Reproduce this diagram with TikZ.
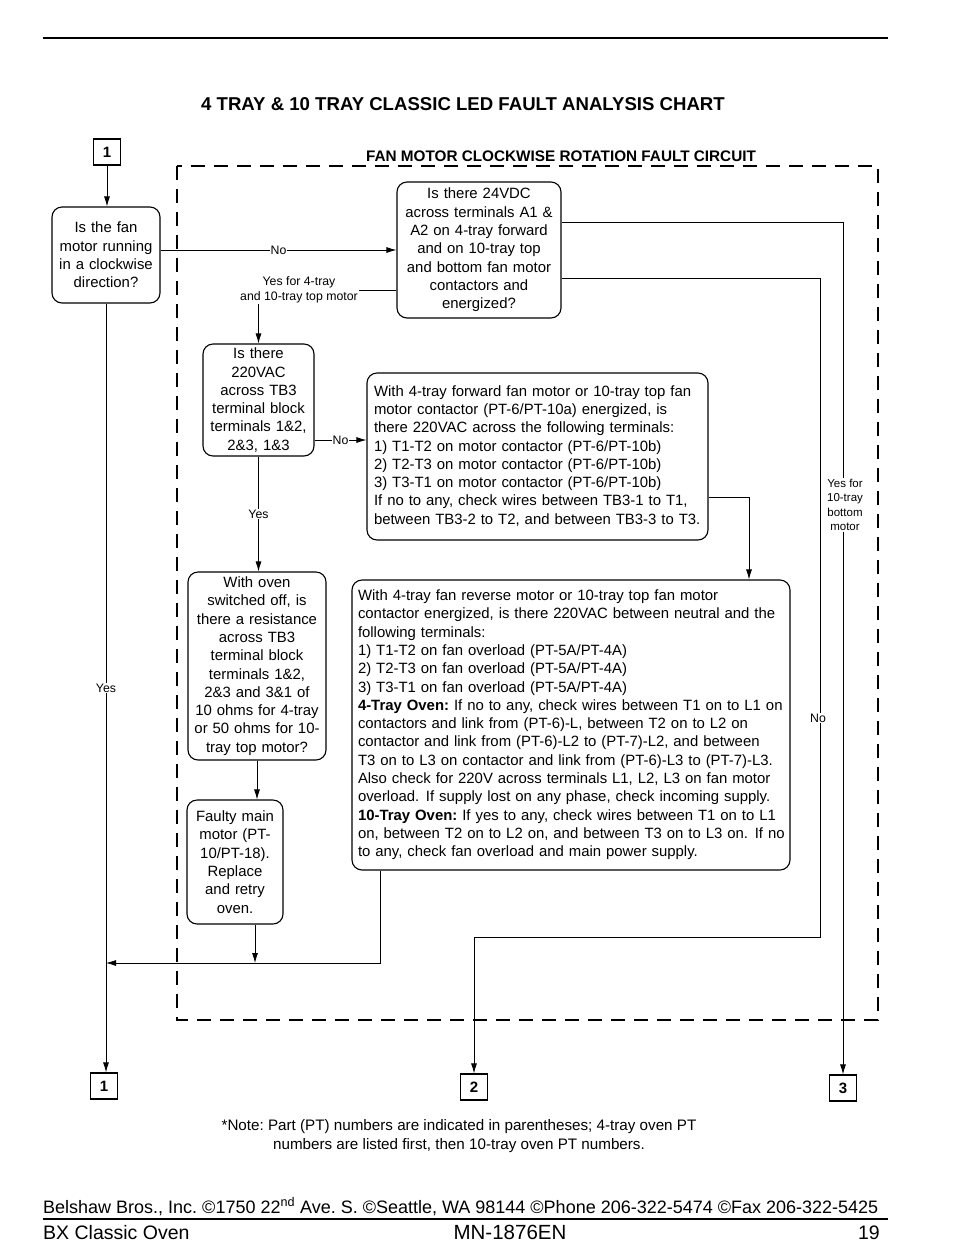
\documentclass[tikz,border=0pt]{standalone}
\usepackage{fontspec}
\setmainfont{Liberation Sans}
\usetikzlibrary{arrows.meta,calc}
\newcommand{\boxlines}[1]{\begin{tabular}{@{}l@{}}#1\end{tabular}}
\newcommand{\twosp}{\hspace{0.45em}}
\frenchspacing
\tikzset{
  box/.style={draw, line width=1.1pt, rounded corners=10pt, align=center, inner xsep=3pt, inner ysep=0pt, font=\fontsize{14.9}{18.3}\selectfont},
  lbox/.style={box, align=left, inner xsep=7pt},
  lbl/.style={fill=white, inner sep=1pt, align=center, font=\fontsize{12.3}{15}\selectfont},
  slbl/.style={fill=white, inner sep=1pt, align=center, font=\fontsize{11.5}{14.5}\selectfont},
  conn/.style={line width=0.8pt},
  arr/.style={line width=0.8pt, -{Latex[length=10pt,width=6pt]}},
  term/.style={draw, line width=1.2pt, minimum width=27pt, minimum height=26pt, inner sep=0pt, font=\fontsize{15}{16}\bfseries\selectfont},
  frame/.style={line width=2.6pt, dash pattern=on 14pt off 9pt},
}
\begin{document}
\begin{tikzpicture}[x=1pt,y=-1pt]
\useasboundingbox (0,0) rectangle (954,1259);
% page rules
\draw[line width=1.4pt] (43,38) -- (888,38);
\node[font=\fontsize{18.6}{22}\bfseries\selectfont] (title) at (463,104) {4 TRAY \& 10 TRAY CLASSIC LED FAULT ANALYSIS CHART};
% dashed frame
\draw[frame] (177,166) rectangle (878,1020);
\node[font=\fontsize{15.3}{18}\bfseries\selectfont, anchor=base] (ftitle) at (561,161) {FAN MOTOR CLOCKWISE ROTATION FAULT CIRCUIT};

% terminals
\node[term] (t1top) at (107,152) {1};
\node[term] (tb1) at (104,1086) {1};
\node[term] (tb2) at (474,1087) {2};
\node[term] (tb3) at (843,1088) {3};

% boxes
\node[box, minimum width=108pt, minimum height=96pt, text width=102pt] (A) at (106,255)
  {Is the fan\\motor running\\in a clockwise\\direction?};
\node[box, minimum width=164pt, minimum height=136pt, text width=158pt] (B) at (479,250)
  {Is there 24VDC\\across terminals A1 \&\\A2 on 4-tray forward\\and on 10-tray top\\and bottom fan motor\\contactors and\\energized?};
\node[box, minimum width=111pt, minimum height=112pt, text width=105pt] (C) at (258.5,400)
  {Is there\\220VAC\\across TB3\\terminal block\\terminals 1\&2,\\2\&3, 1\&3};
\node[lbox, minimum width=341pt, minimum height=167pt, text width=327pt] (D) at (537.5,456.5)
  {\boxlines{With 4-tray forward fan motor or 10-tray top fan\\
   motor contactor (PT-6/PT-10a) energized, is\\
   there 220VAC across the following terminals:\\
   1) T1-T2 on motor contactor (PT-6/PT-10b)\\
   2) T2-T3 on motor contactor (PT-6/PT-10b)\\
   3) T3-T1 on motor contactor (PT-6/PT-10b)\\
   If no to any, check wires between TB3-1 to T1,\\
   between TB3-2 to T2, and between TB3-3 to T3.}};
\node[box, minimum width=138pt, minimum height=188pt, text width=132pt] (E) at (257,666)
  {With oven\\switched off, is\\there a resistance\\across TB3\\terminal block\\terminals 1\&2,\\2\&3 and 3\&1 of\\10 ohms for 4-tray\\or 50 ohms for 10-\\tray top motor?};
\node[box, minimum width=96pt, minimum height=124pt, text width=90pt] (F) at (235,862)
  {Faulty main\\motor (PT-\\10/PT-18).\\Replace\\and retry\\oven.};
\node[lbox, inner xsep=6pt, minimum width=438pt, minimum height=290pt, text width=426pt] (G) at (571,725)
  {\boxlines{With 4-tray fan reverse motor or 10-tray top fan motor\\
   contactor energized, is there 220VAC between neutral and the\\
   following terminals:\\
   1) T1-T2 on fan overload (PT-5A/PT-4A)\\
   2) T2-T3 on fan overload (PT-5A/PT-4A)\\
   3) T3-T1 on fan overload (PT-5A/PT-4A)\\
   \textbf{4-Tray Oven:} If no to any, check wires between T1 on to L1 on\\
   contactors and link from (PT-6)-L, between T2 on to L2 on\\
   contactor and link from (PT-6)-L2 to (PT-7)-L2, and between\\
   T3 on to L3 on contactor and link from (PT-6)-L3 to (PT-7)-L3.\\
   Also check for 220V across terminals L1, L2, L3 on fan motor\\
   overload.\twosp If supply lost on any phase, check incoming supply.\\
   \textbf{10-Tray Oven:} If yes to any, check wires between T1 on to L1\\
   on, between T2 on to L2 on, and between T3 on to L3 on.\twosp If no\\
   to any, check fan overload and main power supply.}};

% helper coordinates
\coordinate (dG) at (749,0);
\coordinate (gx) at (380,963);
\coordinate (fj) at (255,963);
\coordinate (n1) at (820,937);
\coordinate (cn) at ($(C.east)+(0,40)$);
\coordinate (bw) at ($(B.west)+(0,40)$);
\coordinate (de) at ($(D.east)+(0,41)$);
\coordinate (be1) at ($(B.east)+(0,-28)$);
\coordinate (be2) at ($(B.east)+(0,28)$);

% connectors
\draw[arr] (t1top.south) -- (t1top.south |- A.north);
\draw[arr] (A.east |- B.west) -- (B.west) node[lbl, midway] {No};
\draw[arr] (A.south) -- (A.south |- tb1.north) node[lbl, pos=0.5] {Yes};
\draw[arr] (bw) -| (C.north);
\node[lbl] (lyes4) at (299,290) {Yes for 4-tray\\and 10-tray top motor};
\draw[arr] (cn) -- (cn -| D.west) node[lbl, midway] {No};
\draw[arr] (C.south) -- (C.south |- E.north) node[lbl, midway] {Yes};
\draw[arr] (de) -| (dG |- G.north);
\draw[arr] (E.south) -- (E.south |- F.north);
\draw[arr] (fj |- F.south) -- (fj);
\draw[arr] (gx |- G.south) -- (gx) -- (gx -| A.south);
\draw[arr] (be1) -| (tb3.north);
\node[slbl] (lyes10) at (845,505) {Yes for\\10-tray\\bottom\\motor};
\draw[arr] (be2) -| (n1) -| (tb2.north);
\node[lbl] (lno2) at (818,718) {No};

% note and footer
\node[align=center, font=\fontsize{15.2}{19}\selectfont] (note) at (459,1136)
  {*Note: Part (PT) numbers are indicated in parentheses; 4-tray oven PT\\numbers are listed first, then 10-tray oven PT numbers.};
\node[anchor=base west, font=\fontsize{18}{20}\selectfont, inner sep=0pt] (foot1) at (43,1213)
  {Belshaw Bros., Inc. ©1750 22\textsuperscript{nd} Ave. S. ©Seattle, WA 98144 ©Phone 206-322-5474 ©Fax 206-322-5425};
\draw[line width=1.4pt] (43,1219) -- (888,1219);
\node[anchor=base west, font=\fontsize{19.5}{22}\selectfont, inner sep=0pt] (foot2) at (43,1239) {BX Classic Oven};
\node[anchor=base, font=\fontsize{20.5}{22}\selectfont, inner sep=0pt] (foot3) at (510,1239) {MN-1876EN};
\node[anchor=base east, font=\fontsize{19.5}{22}\selectfont, inner sep=0pt] (foot4) at (880,1239) {19};
\end{tikzpicture}
\end{document}
